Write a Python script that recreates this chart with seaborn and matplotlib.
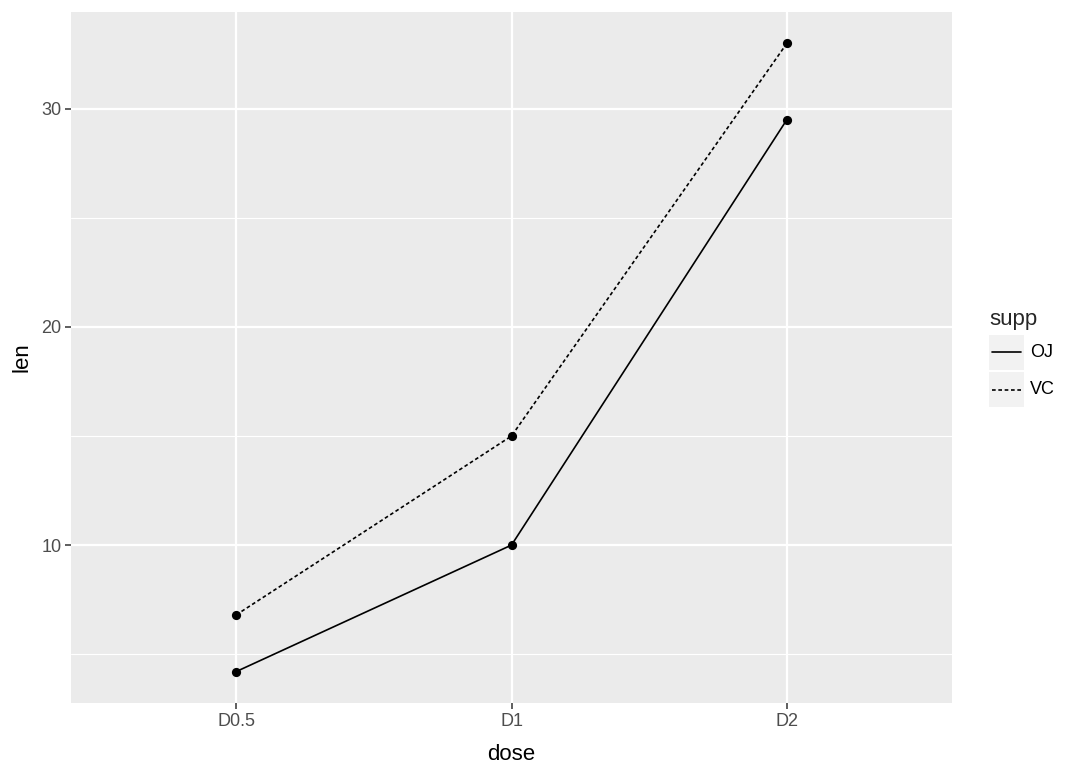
import matplotlib
matplotlib.use("Agg")
import matplotlib.pyplot as plt
import seaborn as sns
import pandas as pd
from matplotlib.patches import Rectangle
from matplotlib.lines import Line2D

# Data
supp = ["VC", "VC", "VC", "OJ", "OJ", "OJ"]
dose = ["D0.5", "D1", "D2", "D0.5", "D1", "D2"]
length = [6.8, 15, 33, 4.2, 10, 29.5]
dose_order = ["D0.5", "D1", "D2"]
supp_order = ["OJ", "VC"]
y_ticks = [10, 20, 30]
y_minor = [5, 15, 25]

df = pd.DataFrame({"supp": supp, "dose": dose, "len": length})
df["x"] = df["dose"].map({d: i for i, d in enumerate(dose_order)})

sns.set_theme(style="darkgrid")
plt.rcParams["font.family"] = ["Liberation Sans", "DejaVu Sans"]

fig = plt.figure(figsize=(10.8, 7.71), dpi=100)
ax = fig.add_axes([71 / 1080, 1 - 703 / 771, (952 - 71) / 1080, (703 - 12) / 771])
ax.set_facecolor("#EBEBEB")

for s in supp_order:
    sub = df[df["supp"] == s]
    sns.lineplot(data=sub, x="x", y="len", ax=ax, color="black", lw=1.2,
                 linestyle="-" if s == "OJ" else (0, (2.2, 1.6)), legend=False)
sns.scatterplot(data=df, x="x", y="len", ax=ax, color="black", s=44,
                edgecolor="black", linewidth=0, legend=False, zorder=5)

ax.set_xlim(-0.6, 2.6)
ymin, ymax = min(length), max(length)
pad = (ymax - ymin) * 0.05
ax.set_ylim(ymin - pad, ymax + pad)

ax.set_xticks(range(len(dose_order)))
ax.set_xticklabels(dose_order)
ax.set_yticks(y_ticks)
ax.set_yticks(y_minor, minor=True)

ax.grid(which="major", color="white", lw=1.6)
ax.grid(which="minor", color="white", lw=0.8)
ax.set_axisbelow(True)
for sp in ax.spines.values():
    sp.set_visible(False)

ax.tick_params(axis="both", which="major", length=4, width=1.1, color="#333333",
               labelcolor="#4D4D4D", labelsize=13, pad=3)
ax.tick_params(axis="both", which="minor", length=0)
ax.tick_params(axis="x", bottom=True)
ax.tick_params(axis="y", left=True)

ax.set_xlabel("dose", fontsize=16, color="black", labelpad=10)
ax.set_ylabel("len", fontsize=16, color="black", labelpad=6)

# Legend (manual, in figure pixel coordinates)
W, H = 1080, 771
def fx(px):
    return px / W
def fy(py):
    return 1 - py / H

fig.text(fx(989), fy(319), "supp", fontsize=16, ha="left", va="center")
keys = [("OJ", "-", 335), ("VC", (0, (2.2, 1.6)), 372)]
for lab, ls, top in keys:
    fig.patches.append(Rectangle((fx(989), fy(top + 35)), fx(35), 35 / H,
                                 transform=fig.transFigure, facecolor="#F2F2F2",
                                 edgecolor="none"))
    yc = top + 17.5
    fig.lines.append(Line2D([fx(992), fx(1021)], [fy(yc), fy(yc)],
                            transform=fig.transFigure, color="black", lw=1.2,
                            linestyle=ls))
    fig.text(fx(1030), fy(yc), lab, fontsize=13, ha="left", va="center",
             color="black")

fig.savefig("out.png", dpi=100)
